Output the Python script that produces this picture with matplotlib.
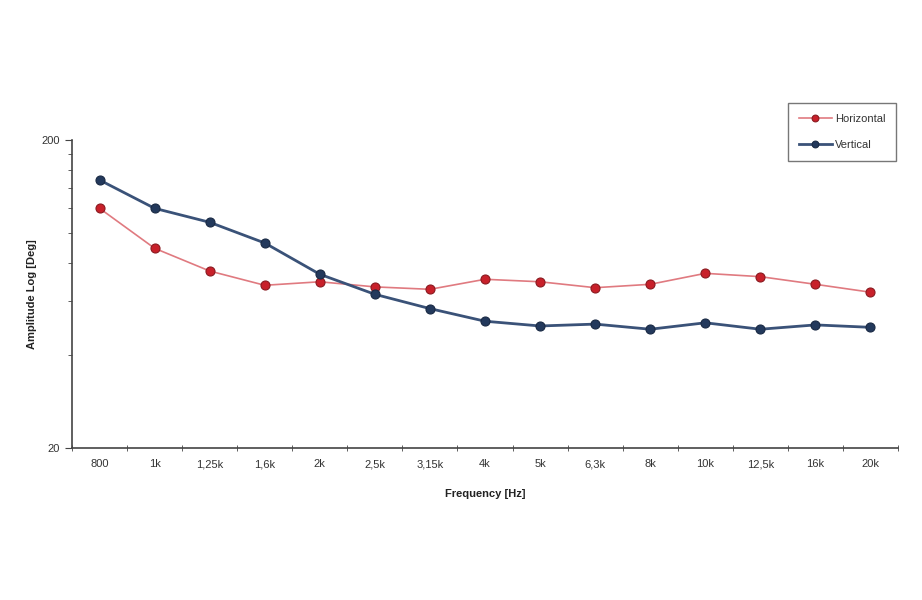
import numpy as np
import matplotlib
matplotlib.use("Agg")
import matplotlib.pyplot as plt
from matplotlib.ticker import FixedLocator, NullFormatter

plt.rcParams['font.family'] = ['Liberation Sans', 'DejaVu Sans']

# Frequency bands (categories)
freqs = ['800', '1k', '1,25k', '1,6k', '2k', '2,5k', '3,15k', '4k', '5k',
         '6,3k', '8k', '10k', '12,5k', '16k', '20k']

# Amplitude values
horizontal = [120.0, 89.0, 75.1, 67.5, 69.3, 66.7, 65.5, 70.6, 69.3,
              66.3, 68.0, 73.8, 72.0, 68.0, 64.1]
vertical = [148.3, 120.0, 108.1, 92.6, 73.3, 63.1, 56.7, 51.6, 49.8,
            50.5, 48.6, 51.0, 48.6, 50.2, 49.3]

fig = plt.figure(figsize=(9.22, 6), dpi=100)
ax = fig.add_axes([0.0781, 0.2533, 0.8959, 0.5134])

x = np.arange(len(freqs))
ax.plot(x, horizontal, color='#e07a80', lw=1.2, marker='o', ms=6.5,
        mfc='#c8202a', mec='#8a1a20', mew=0.8, label='Horizontal', zorder=3)
ax.plot(x, vertical, color='#3a5278', lw=2.0, marker='o', ms=6.5,
        mfc='#23395c', mec='#1a2a44', mew=0.8, label='Vertical', zorder=4)

ax.set_yscale('log')
ax.set_ylim(20, 200)
ax.yaxis.set_major_locator(FixedLocator([20, 200]))
ax.yaxis.set_minor_locator(FixedLocator(list(range(40, 200, 20))))
ax.yaxis.set_minor_formatter(NullFormatter())
ax.set_yticklabels(['20', '200'])

ax.set_xlim(-0.5, len(freqs) - 0.5)
ax.set_xticks(x)
ax.set_xticklabels(freqs)
ax.xaxis.set_minor_locator(FixedLocator(np.arange(-0.5, len(freqs), 1.0)))
ax.tick_params(axis='x', which='major', length=0, pad=8,
               labelsize=8, labelcolor='#333333')
ax.tick_params(axis='x', which='minor', length=4, direction='inout',
               color='#444444')
ax.tick_params(axis='y', which='major', length=5, labelsize=8,
               labelcolor='#333333', color='#444444')
ax.tick_params(axis='y', which='minor', length=3, color='#444444')

for s in ['top', 'right']:
    ax.spines[s].set_visible(False)
for s in ['left', 'bottom']:
    ax.spines[s].set_color('#444444')
    ax.spines[s].set_linewidth(1.2)

ax.set_xlabel('Frequency [Hz]', fontsize=8, fontweight='bold',
              color='#222222', labelpad=14)
ax.set_ylabel('Amplitude Log [Deg]', fontsize=8, fontweight='bold',
              color='#222222')
ax.yaxis.set_label_coords(-0.042, 0.5)

leg = fig.legend(loc='upper left', bbox_to_anchor=(788 / 922, 1 - 103 / 600),
                 fontsize=8, frameon=True, fancybox=False, edgecolor='#555555',
                 handlelength=3.0, borderpad=0.95, labelspacing=1.5,
                 handletextpad=0.3, borderaxespad=0, markerscale=0.75)
leg.get_frame().set_linewidth(1.0)
for t in leg.get_texts():
    t.set_color('#333333')

fig.savefig('out.png', dpi=100, facecolor='white')
